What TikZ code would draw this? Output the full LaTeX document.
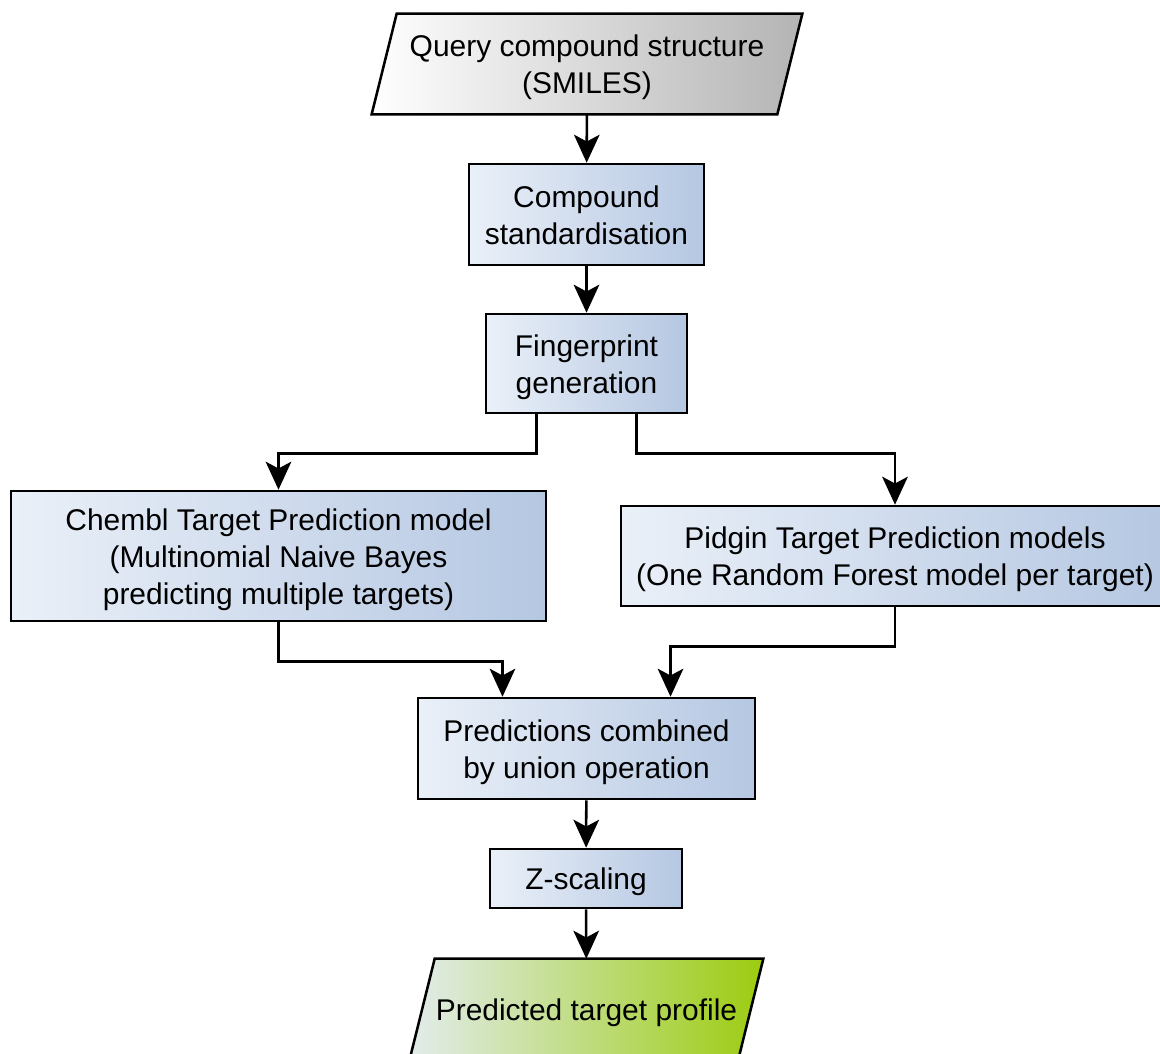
\documentclass[tikz,border=0pt]{standalone}
\usepackage{fontspec}
\setmainfont{Liberation Sans}
\usetikzlibrary{arrows.meta, backgrounds}
\definecolor{boxl}{RGB}{234,240,248}
\definecolor{boxr}{RGB}{181,199,226}
\definecolor{inr}{RGB}{180,180,180}
\definecolor{outl}{RGB}{226,236,236}
\definecolor{outr}{RGB}{156,204,16}
\newcommand\lines[1]{\begin{tabular}{@{}c@{}}\rule{0pt}{24pt}#1\end{tabular}}

\begin{document}
\begin{tikzpicture}[x=0.025cm, y=-0.025cm,
    every node/.style={font=\fontsize{21.3}{26.3}\selectfont, inner sep=0pt},
    box/.style={draw, line width=1.8pt, rectangle, left color=boxl, right color=boxr},
    io/.style={draw, line width=1.8pt, line join=miter},
    link/.style={line width=1.8pt, -{Stealth[length=0.7cm,width=0.64cm,inset=0.17cm]}}]
    \useasboundingbox (0,0) rectangle (1160,1054);

    \node[minimum width=10.125cm, minimum height=2.5cm] (query) at (587,64) {\lines{Query compound structure\\(SMILES)}};
    \node[box, minimum width=5.875cm, minimum height=2.525cm] (std) at (586.5,214.5) {\lines{Compound\\standardisation}};
    \node[box, minimum width=5.025cm, minimum height=2.475cm] (fp) at (586.5,363.5) {\lines{Fingerprint\\generation}};
    \node[box, minimum width=13.375cm, minimum height=3.25cm] (chembl) at (278.5,556)
        {\lines{Chembl Target Prediction model\\(Multinomial Naive Bayes\\predicting multiple targets)}};
    \node[box, minimum width=13.7cm, minimum height=2.5cm] (pidgin) at (895,556)
        {\lines{Pidgin Target Prediction models\\(One Random Forest model per target)}};
    \node[box, minimum width=8.425cm, minimum height=2.525cm] (comb) at (586.5,748.5) {\lines{Predictions combined\\by union operation}};
    \node[box, minimum width=4.8cm, minimum height=1.475cm] (zs) at (586,878.5) {\lines{Z-scaling}};
    \node[minimum width=8.2cm, minimum height=2.5cm] (pred) at (586.5,1009) {\lines{Predicted target profile}};

    % slanted input / output shapes
    \begin{scope}[on background layer]
    \foreach \n/\cl/\cr in {query/white/inr, pred/outl/outr}
        \draw[io, left color=\cl, right color=\cr] ([xshift=-0.3125cm]\n.south west) -- ([xshift=0.3125cm]\n.north west)
            -- ([xshift=0.3125cm]\n.north east) -- ([xshift=-0.3125cm]\n.south east) -- cycle;
    \end{scope}

    \draw[link] (query) -- (std);
    \draw[link] (std) -- (fp);
    \draw[link] ([xshift=-1.25cm]fp.south) -- ++(0,39) -| (chembl.north);
    \draw[link] ([xshift=1.25cm]fp.south) -- ++(0,39) -| (pidgin.north);
    \draw[link] (chembl.south) -- ++(0,39) -| ([xshift=-2.1cm]comb.north);
    \draw[link] (pidgin.south) -- ++(0,39) -| ([xshift=2.1cm]comb.north);
    \draw[link] (comb) -- (zs);
    \draw[link] (zs) -- (pred);
\end{tikzpicture}
\end{document}
